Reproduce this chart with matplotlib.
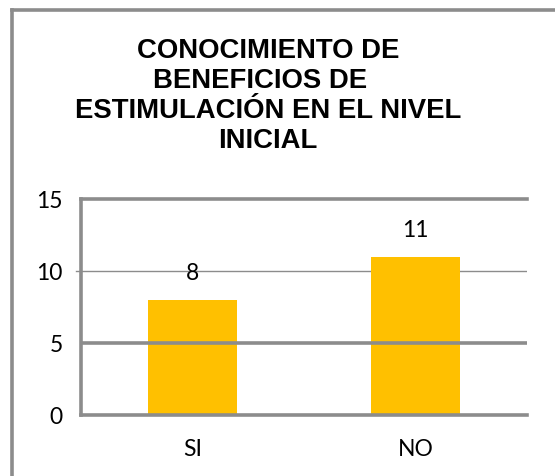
import matplotlib
matplotlib.use("Agg")
import matplotlib.pyplot as plt
from matplotlib.lines import Line2D
import matplotlib.transforms as mtransforms

categories = ["SI", "NO"]
values = [8, 11]
yticks = [0, 5, 10, 15]
title_lines = ["CONOCIMIENTO DE", "BENEFICIOS DE  ", "ESTIMULACIÓN EN EL NIVEL", "INICIAL"]

GREY = "#8c8c8c"
BAR = "#FFC000"

fig = plt.figure(figsize=(5.55, 4.76), dpi=100)
ax = fig.add_axes([81/555, 1-415/476, (527-81)/555, (415-199)/476])

x = list(range(len(categories)))
ax.bar(x, values, width=0.40, color=BAR, zorder=2)
ax.set_xlim(-0.5, len(categories) - 0.5)
ax.set_ylim(0, 15)

# gridlines
ax.axhline(10, color=GREY, lw=1.0, zorder=1)
trans = mtransforms.blended_transform_factory(ax.transAxes, ax.transData)
ax.plot([-0.012, 0], [10, 10], color=GREY, lw=1.0, transform=trans, clip_on=False)
ax.axhline(5, color=GREY, lw=2.6, zorder=3)
ax.axhline(15, color=GREY, lw=2.6, zorder=3, clip_on=False)

for s in ["top", "right"]:
    ax.spines[s].set_visible(False)
for s in ["left", "bottom"]:
    ax.spines[s].set_color(GREY)
    ax.spines[s].set_linewidth(2.6)
    ax.spines[s].set_zorder(4)

FS = 16.5
ax.set_xticks(x)
ax.set_xticklabels(categories, fontfamily="Lato", fontsize=FS)
ax.set_yticks(yticks)
ax.set_yticklabels([str(t) for t in yticks], fontfamily="Lato", fontsize=FS)
ax.tick_params(axis="both", length=0)
ax.tick_params(axis="y", pad=13)
ax.tick_params(axis="x", pad=17)

for xi, v in zip(x, values):
    ax.annotate(str(v), (xi, v), xytext=(0, 19), textcoords="offset points",
                ha="center", va="center", fontfamily="Lato", fontsize=FS)

fig.text(268/555, 1-96/476, "\n".join(title_lines), ha="center", va="center",
         fontfamily="Liberation Sans", fontweight="bold", fontsize=19.8,
         linespacing=1.2)

# outer frame (left and top edges)
fig.add_artist(Line2D([12/555, 12/555], [0, 1-10/476], transform=fig.transFigure,
                      color=GREY, lw=2.6))
fig.add_artist(Line2D([12/555, 1], [1-10/476, 1-10/476], transform=fig.transFigure,
                      color=GREY, lw=2.6))

fig.savefig("out.png", dpi=100, facecolor="white")
